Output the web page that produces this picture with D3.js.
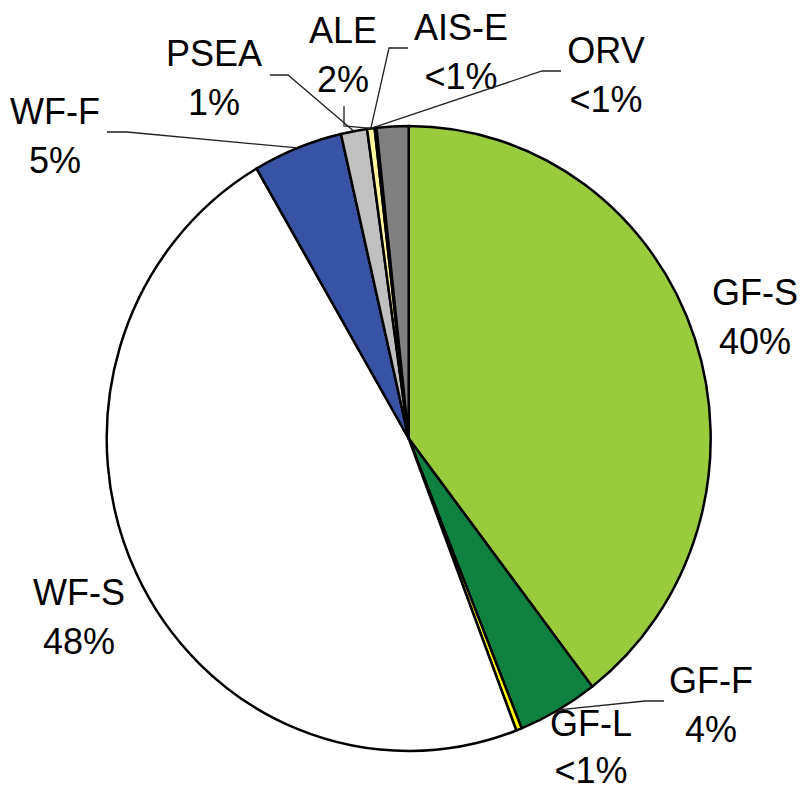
<!DOCTYPE html>
<html>
<head>
<meta charset="utf-8">
<script src="https://cdn.jsdelivr.net/npm/d3@7"></script>
<style>
  body { margin: 0; background: #fff; }
  text { font-family: "Liberation Sans", Arial, sans-serif; font-size: 36px; fill: #000; }
</style>
</head>
<body>
<div id="chart"></div>
<script>
// slice data, clockwise from 12 o'clock
var categories = ["GF-S", "GF-F", "GF-L", "WF-S", "WF-F", "PSEA", "AIS-E", "ORV", "ALE"];
var shares = [39.6, 4.3, 0.3, 47.4, 4.8, 1.4, 0.4, 0.1, 1.7];
var shareLabels = ["40%", "4%", "<1%", "48%", "5%", "1%", "<1%", "<1%", "2%"];
var colors = ["#9acb3c", "#0e8040", "#ffff00", "#ffffff", "#3953a4", "#c0c0c0", "#fff59a", "#404040", "#808080"];

var width = 801, height = 792;
var cx = 408.7, cy = 438.5, rx = 302, ry = 312.5;

// label layout: centre x, first baseline, leader points near label, leader target slice
var labelLayout = {
    "GF-S":  { x: 755, y: 305 },
    "GF-F":  { x: 711, y: 693, leader: [[664, 701], [645, 701]], target: "GF-F" },
    "GF-L":  { x: 591, y: 736, gap: 47 },
    "WF-S":  { x: 79,  y: 605 },
    "WF-F":  { x: 55,  y: 124, leader: [[107, 132], [127, 132]], target: "WF-F" },
    "PSEA":  { x: 214, y: 66,  leader: [[270, 75], [288, 75]], target: "PSEA" },
    "ALE":   { x: 343, y: 43,  leader: [[344, 106], [344, 126]], target: "AIS-E" },
    "AIS-E": { x: 461, y: 40,  leader: [[408, 48], [389, 48]], target: "AIS-E" },
    "ORV":   { x: 606, y: 63,  leader: [[561, 71], [542, 71]], target: "AIS-E" }
};

var svg = d3.select("#chart").append("svg")
    .attr("width", width)
    .attr("height", height);

var data = categories.map(function(c, i) {
    return { name: c, value: shares[i], label: shareLabels[i], color: colors[i] };
});

var pie = d3.pie().sort(null).value(function(d) { return d.value; });
var arcs = pie(data);

var arc = d3.arc().innerRadius(0).outerRadius(rx);

var pieG = svg.append("g")
    .attr("transform", "translate(" + cx + "," + cy + ") scale(1," + (ry / rx) + ")");

pieG.selectAll("path")
    .data(arcs)
    .enter().append("path")
    .attr("d", arc)
    .attr("fill", function(d) { return d.data.color; })
    .attr("stroke", "#000")
    .attr("stroke-width", 2.5)
    .attr("stroke-linejoin", "round")
    .attr("vector-effect", "non-scaling-stroke");

// point on the (slightly stretched) pie edge at a slice's mid angle
function edgePoint(name) {
    var a = arcs.filter(function(d) { return d.data.name == name; })[0];
    var ang = (a.startAngle + a.endAngle) / 2;
    return [cx + rx * Math.sin(ang), cy - ry * Math.cos(ang)];
}

var line = d3.line();

data.forEach(function(d) {
    var lay = labelLayout[d.name];
    if (lay.leader) {
        var pts = lay.leader.concat([edgePoint(lay.target)]);
        svg.append("path")
            .attr("d", line(pts))
            .attr("fill", "none")
            .attr("stroke", "#222")
            .attr("stroke-width", 1.3);
    }
    var t = svg.append("text")
        .attr("text-anchor", "middle")
        .attr("x", lay.x)
        .attr("y", lay.y);
    t.append("tspan").attr("x", lay.x).text(d.name);
    t.append("tspan").attr("x", lay.x).attr("dy", lay.gap || 49).text(d.label);
});
</script>
</body>
</html>
